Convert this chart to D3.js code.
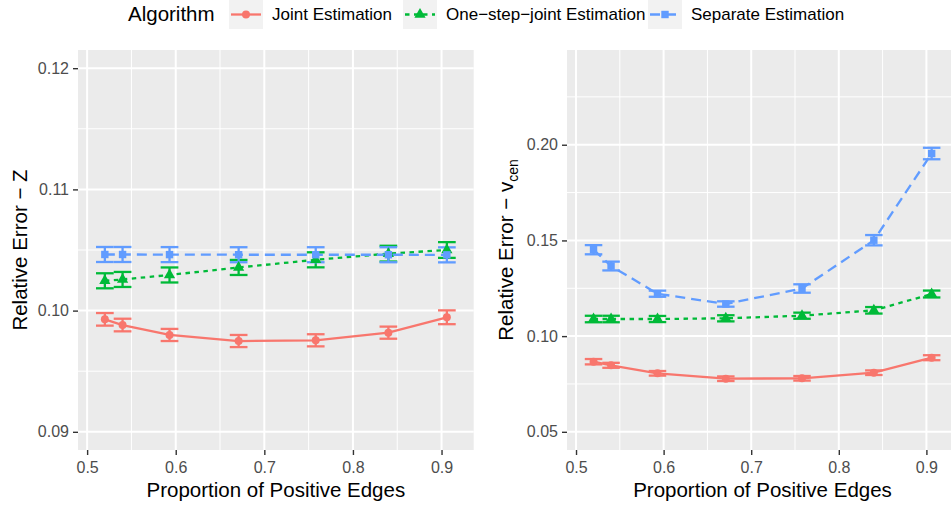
<!DOCTYPE html>
<html>
<head>
<meta charset="utf-8">
<script src="https://cdn.jsdelivr.net/npm/d3@7"></script>
<style>
  body { margin: 0; background: #fff; }
  svg { display: block; font-family: "Liberation Sans", Arial, Helvetica, sans-serif; }
</style>
</head>
<body>
<svg id="chart" width="951" height="506"></svg>
<script>
// x: proportion of positive edges (same for both panels)
const proportion = [0.52, 0.54, 0.593, 0.671, 0.758, 0.84, 0.906];

const algorithms = ["Joint Estimation", "One−step−joint Estimation", "Separate Estimation"];
const colors = ["#F8766D", "#00BA38", "#619CFF"];
const dashes = [null, "4.5,4.5", "10,6"];
const shapes = [d3.symbolCircle, d3.symbolTriangle, d3.symbolSquare];
const shapeSize = [50, 55, 55];

// left panel: relative error of Z (mean and half width of error bar)
const zJoint = [0.09928, 0.09881, 0.09799, 0.09749, 0.09755, 0.09818, 0.09945];
const zJointErr = [0.00052, 0.00052, 0.0005, 0.0005, 0.0005, 0.0005, 0.00057];
const zOneStep = [0.10246, 0.10257, 0.10294, 0.10356, 0.10419, 0.10470, 0.10500];
const zOneStepErr = [0.00062, 0.00062, 0.00062, 0.00062, 0.00062, 0.00065, 0.00065];
const zSeparate = [0.10463, 0.10463, 0.10462, 0.10461, 0.10461, 0.10461, 0.10460];
const zSeparateErr = [0.00062, 0.00062, 0.00062, 0.00062, 0.00062, 0.00062, 0.00062];

// right panel: relative error of v_cen
const vJoint = [0.08663, 0.08475, 0.08057, 0.07775, 0.07796, 0.08089, 0.08872];
const vJointErr = [0.0014, 0.0013, 0.0012, 0.0012, 0.0012, 0.0012, 0.0013];
const vOneStep = [0.10894, 0.10894, 0.10894, 0.10931, 0.11067, 0.11349, 0.12200];
const vOneStepErr = [0.0017, 0.0017, 0.0016, 0.0016, 0.0016, 0.0017, 0.0018];
const vSeparate = [0.14515, 0.13663, 0.12216, 0.11678, 0.12488, 0.15011, 0.19541];
const vSeparateErr = [0.0024, 0.0023, 0.0016, 0.0014, 0.0022, 0.0027, 0.0030];

const xTicks = [0.5, 0.6, 0.7, 0.8, 0.9];
const xMinor = [0.55, 0.65, 0.75, 0.85];
const zTicks = [0.09, 0.10, 0.11, 0.12];
const zMinor = [0.095, 0.105, 0.115];
const vTicks = [0.05, 0.10, 0.15, 0.20];
const vMinor = [0.075, 0.125, 0.175, 0.225];

const capHalf = 0.01;  // error bar width 0.02

const svg = d3.select("#chart");

function drawPanel(cfg) {
    const x = d3.scaleLinear().domain([0.4897, 0.9363]).range(cfg.xRange);
    const y = d3.scaleLinear().domain(cfg.yDomain).range([450, 50]);

    const g = svg.append("g");

    // panel background
    g.append("rect")
        .attr("x", cfg.xRange[0]).attr("y", 50)
        .attr("width", cfg.xRange[1] - cfg.xRange[0]).attr("height", 400)
        .attr("fill", "#EBEBEB");

    // grid: minor then major
    g.selectAll(".hminor").data(cfg.yMinor).enter().append("line")
        .attr("x1", cfg.xRange[0]).attr("x2", cfg.xRange[1])
        .attr("y1", d => y(d)).attr("y2", d => y(d))
        .attr("stroke", "#fff").attr("stroke-width", 1);
    g.selectAll(".vminor").data(xMinor).enter().append("line")
        .attr("x1", d => x(d)).attr("x2", d => x(d))
        .attr("y1", 50).attr("y2", 450)
        .attr("stroke", "#fff").attr("stroke-width", 1);
    g.selectAll(".hmajor").data(cfg.yTicks).enter().append("line")
        .attr("x1", cfg.xRange[0]).attr("x2", cfg.xRange[1])
        .attr("y1", d => y(d)).attr("y2", d => y(d))
        .attr("stroke", "#fff").attr("stroke-width", 2);
    g.selectAll(".vmajor").data(xTicks).enter().append("line")
        .attr("x1", d => x(d)).attr("x2", d => x(d))
        .attr("y1", 50).attr("y2", 450)
        .attr("stroke", "#fff").attr("stroke-width", 2);

    const line = d3.line().x((d, i) => x(proportion[i])).y(d => y(d));

    // lines
    cfg.series.forEach((s, k) => {
        g.append("path")
            .attr("d", line(s.values))
            .attr("fill", "none")
            .attr("stroke", colors[k])
            .attr("stroke-width", 2.3)
            .attr("stroke-dasharray", dashes[k]);
    });

    // error bars
    cfg.series.forEach((s, k) => {
        const eb = g.append("g").attr("stroke", colors[k]).attr("stroke-width", 2.3);
        s.values.forEach((v, i) => {
            const lo = y(v - s.err[i]), hi = y(v + s.err[i]);
            const x0 = x(proportion[i] - capHalf), x1 = x(proportion[i] + capHalf);
            eb.append("line").attr("x1", x(proportion[i])).attr("x2", x(proportion[i]))
                .attr("y1", lo).attr("y2", hi);
            eb.append("line").attr("x1", x0).attr("x2", x1).attr("y1", lo).attr("y2", lo);
            eb.append("line").attr("x1", x0).attr("x2", x1).attr("y1", hi).attr("y2", hi);
        });
    });

    // points
    cfg.series.forEach((s, k) => {
        g.selectAll(".pt" + k).data(s.values).enter().append("path")
            .attr("d", d3.symbol().type(shapes[k]).size(shapeSize[k]))
            .attr("transform", (d, i) => `translate(${x(proportion[i])},${y(d)})`)
            .attr("fill", colors[k]);
    });

    // axes
    const xAxis = g.append("g")
        .attr("transform", "translate(0,450)")
        .call(d3.axisBottom(x).tickValues(xTicks).tickFormat(d3.format(".1f"))
            .tickSize(5).tickPadding(6.5));
    const yAxis = g.append("g")
        .attr("transform", `translate(${cfg.xRange[0]},0)`)
        .call(d3.axisLeft(y).tickValues(cfg.yTicks).tickFormat(d3.format(".2f"))
            .tickSize(5).tickPadding(4));
    [xAxis, yAxis].forEach(a => {
        a.select(".domain").remove();
        a.selectAll("line").attr("stroke", "#333").attr("stroke-width", 1.4);
        a.selectAll("text").attr("fill", "#4D4D4D")
            .style("font-size", "16px").style("font-family", null);
    });

    // axis titles
    const cx = (cfg.xRange[0] + Math.min(cfg.xRange[1], 958)) / 2;
    g.append("text")
        .attr("x", cx).attr("y", 497)
        .attr("text-anchor", "middle")
        .style("font-size", "20.5px")
        .text("Proportion of Positive Edges");

    const yt = g.append("text")
        .attr("transform", `translate(${cfg.titleX},250) rotate(-90)`)
        .attr("text-anchor", "middle")
        .style("font-size", "20.5px");
    yt.append("tspan").text(cfg.yTitle);
    if (cfg.yTitleSub) {
        yt.append("tspan").attr("dy", 5).style("font-size", "14px").text(cfg.yTitleSub);
    }
}

drawPanel({
    xRange: [78, 473.7],
    yDomain: [0.0885, 0.1215],
    yTicks: zTicks,
    yMinor: zMinor,
    titleX: 27,
    yTitle: "Relative Error − Z",
    series: [
        { values: zJoint, err: zJointErr },
        { values: zOneStep, err: zOneStepErr },
        { values: zSeparate, err: zSeparateErr }
    ]
});

drawPanel({
    xRange: [567, 958.2],
    yDomain: [0.0405, 0.2495],
    yTicks: vTicks,
    yMinor: vMinor,
    titleX: 513,
    yTitle: "Relative Error − v",
    yTitleSub: "cen",
    series: [
        { values: vJoint, err: vJointErr },
        { values: vOneStep, err: vOneStepErr },
        { values: vSeparate, err: vSeparateErr }
    ]
});

// legend on top
const legend = svg.append("g");
legend.append("text")
    .attr("x", 128).attr("y", 21)
    .style("font-size", "20.5px")
    .text("Algorithm");

const keyX = [229, 403, 648];
algorithms.forEach((name, k) => {
    const kg = legend.append("g").attr("transform", `translate(${keyX[k]},0)`);
    kg.append("rect")
        .attr("width", 34).attr("height", 29)
        .attr("fill", "#F2F2F2");
    kg.append("line")
        .attr("x1", 2).attr("x2", 32).attr("y1", 14.5).attr("y2", 14.5)
        .attr("stroke", colors[k]).attr("stroke-width", 2.3)
        .attr("stroke-dasharray", dashes[k]);
    kg.append("path")
        .attr("d", d3.symbol().type(shapes[k]).size(shapeSize[k]))
        .attr("transform", "translate(17,14.5)")
        .attr("fill", colors[k]);
    kg.append("text")
        .attr("x", 43).attr("y", 20)
        .style("font-size", "17px")
        .text(name);
});
</script>
</body>
</html>
